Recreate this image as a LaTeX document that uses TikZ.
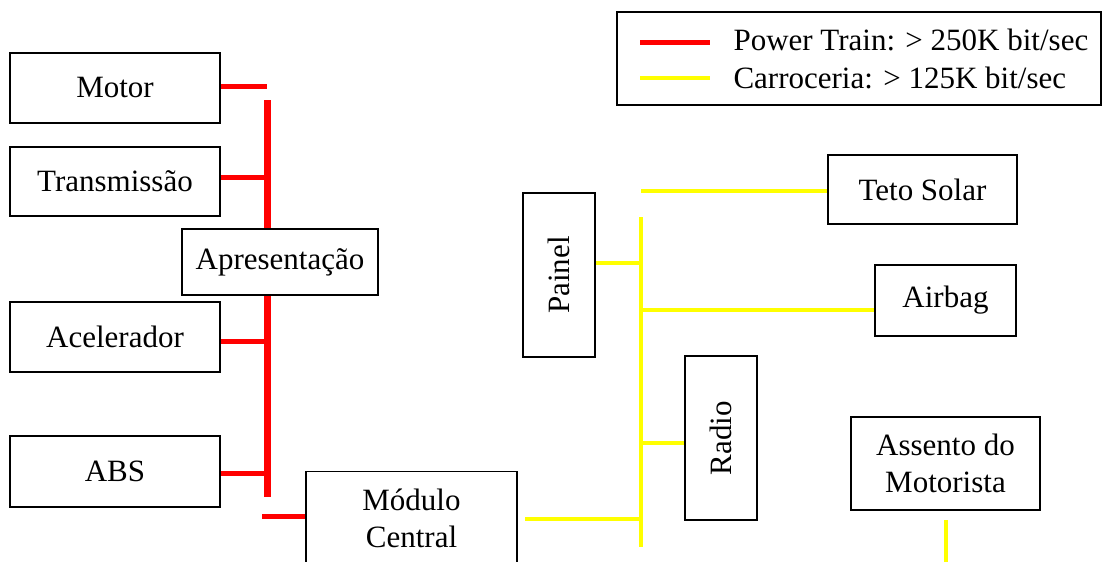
\documentclass[tikz,border=0pt]{standalone}
\usepackage{fontspec}
\setmainfont{Liberation Serif}
\usepackage{xcolor}
\definecolor{BusRed}{HTML}{FF0000}
\definecolor{BusYellow}{HTML}{FFFF00}
\usetikzlibrary{positioning, calc, backgrounds}

\begin{document}
\begin{tikzpicture}[x=1pt, y=-1pt,
        every node/.style={font=\fontsize{31}{37}\selectfont},
        ecu/.style={rectangle, draw, line width=1.6pt, fill=white, inner sep=0pt, align=center},
        pwr/.style={BusRed, line width=5pt},
        pwrbus/.style={BusRed, line width=7pt},
        body/.style={BusYellow, line width=4pt}]
        \useasboundingbox (0,0) rectangle (1103,562);

        % power train side
        \node (motor) [ecu, minimum width=210pt, minimum height=70pt] at (115,88) {Motor};
        \node (trans) [ecu, minimum width=210pt, minimum height=69pt] at (115,181.5) {Transmissão};
        \node (apres) [ecu, minimum width=196pt, minimum height=66pt] at (280,262) {Apresentação};
        \node (accel) [ecu, minimum width=210pt, minimum height=70pt] at (115,337) {Acelerador};
        \node (abs) [ecu, minimum width=210pt, minimum height=71pt] at (115,471.5) {ABS};
        \node (modulo) [ecu, minimum width=211pt, minimum height=93pt] at (411.5,518) {Módulo\\Central};

        % body side
        \node (painel) [ecu, rotate=90, minimum width=164pt, minimum height=72pt] at (559,275) {Painel};
        \node (radio) [ecu, rotate=90, minimum width=164pt, minimum height=72pt] at (721,438) {Radio};
        \node (teto) [ecu, minimum width=189pt, minimum height=69pt] at (922.5,189.5) {Teto Solar};
        \node (airbag) [ecu, minimum width=141pt, minimum height=71pt] at (945.5,300.5) {Airbag};
        \node (assento) [ecu, minimum width=189pt, minimum height=93pt] at (945.5,463.5) {Assento do\\Motorista};

        % legend
        \node (legend) [draw, line width=1.6pt, inner sep=0pt, minimum width=484pt, minimum height=93pt] at (859,58.5) {};
        \node (legpower) [anchor=base west] at (730,50) {Power Train: > 250K bit/sec};
        \node (legbody) [anchor=base west] at (730,88) {Carroceria: > 125K bit/sec};
        \coordinate (keypower) at (640,42);
        \coordinate (keybody) at (640,78);
        \draw[pwr] (keypower) -- ++(70,0);
        \draw[body] (keybody) -- ++(70,0);

        % red bus
        \coordinate (pwrtop) at (267,100);
        \coordinate (pwrbot) at (267,497);
        \coordinate (motortap) at (267,86);
        \coordinate (transtap) at (267,177);
        \coordinate (acceltap) at (267,341);
        \coordinate (abstap) at (267,473);
        \coordinate (pwrstub) at (262,516);
        \begin{scope}[on background layer]
            \draw[pwrbus] (pwrtop) -- (pwrbot);
        \end{scope}
        \draw[pwr] (motortap -| motor.east) -- (motortap);
        \draw[pwr] (transtap -| trans.east) -- (transtap);
        \draw[pwr] (acceltap -| accel.east) -- (acceltap);
        \draw[pwr] (abstap -| abs.east) -- (abstap);
        \draw[pwr] (pwrstub) -- (pwrstub -| modulo.west);

        % yellow bus
        \coordinate (bodytop) at (641,217);
        \coordinate (bodybot) at (641,547);
        \coordinate (tetotap) at (641,191);
        \coordinate (paineltap) at (641,263);
        \coordinate (airbagtap) at (641,310);
        \coordinate (radiotap) at (641,443);
        \coordinate (modtap) at (641,519);
        \coordinate (assentotap) at (946,520);
        \draw[body] (bodytop) -- (bodybot);
        \draw[body] (tetotap) -- (tetotap -| teto.west);
        \draw[body] (paineltap) -- (paineltap -| painel.south);
        \draw[body] (airbagtap) -- (airbagtap -| airbag.west);
        \draw[body] (radiotap) -- (radiotap -| radio.north);
        \draw[body] (modtap) -- ($(modtap -| modulo.east)+(7,0)$);
        \draw[body] (assentotap) -- ++(0,45);
    \end{tikzpicture}
\end{document}
